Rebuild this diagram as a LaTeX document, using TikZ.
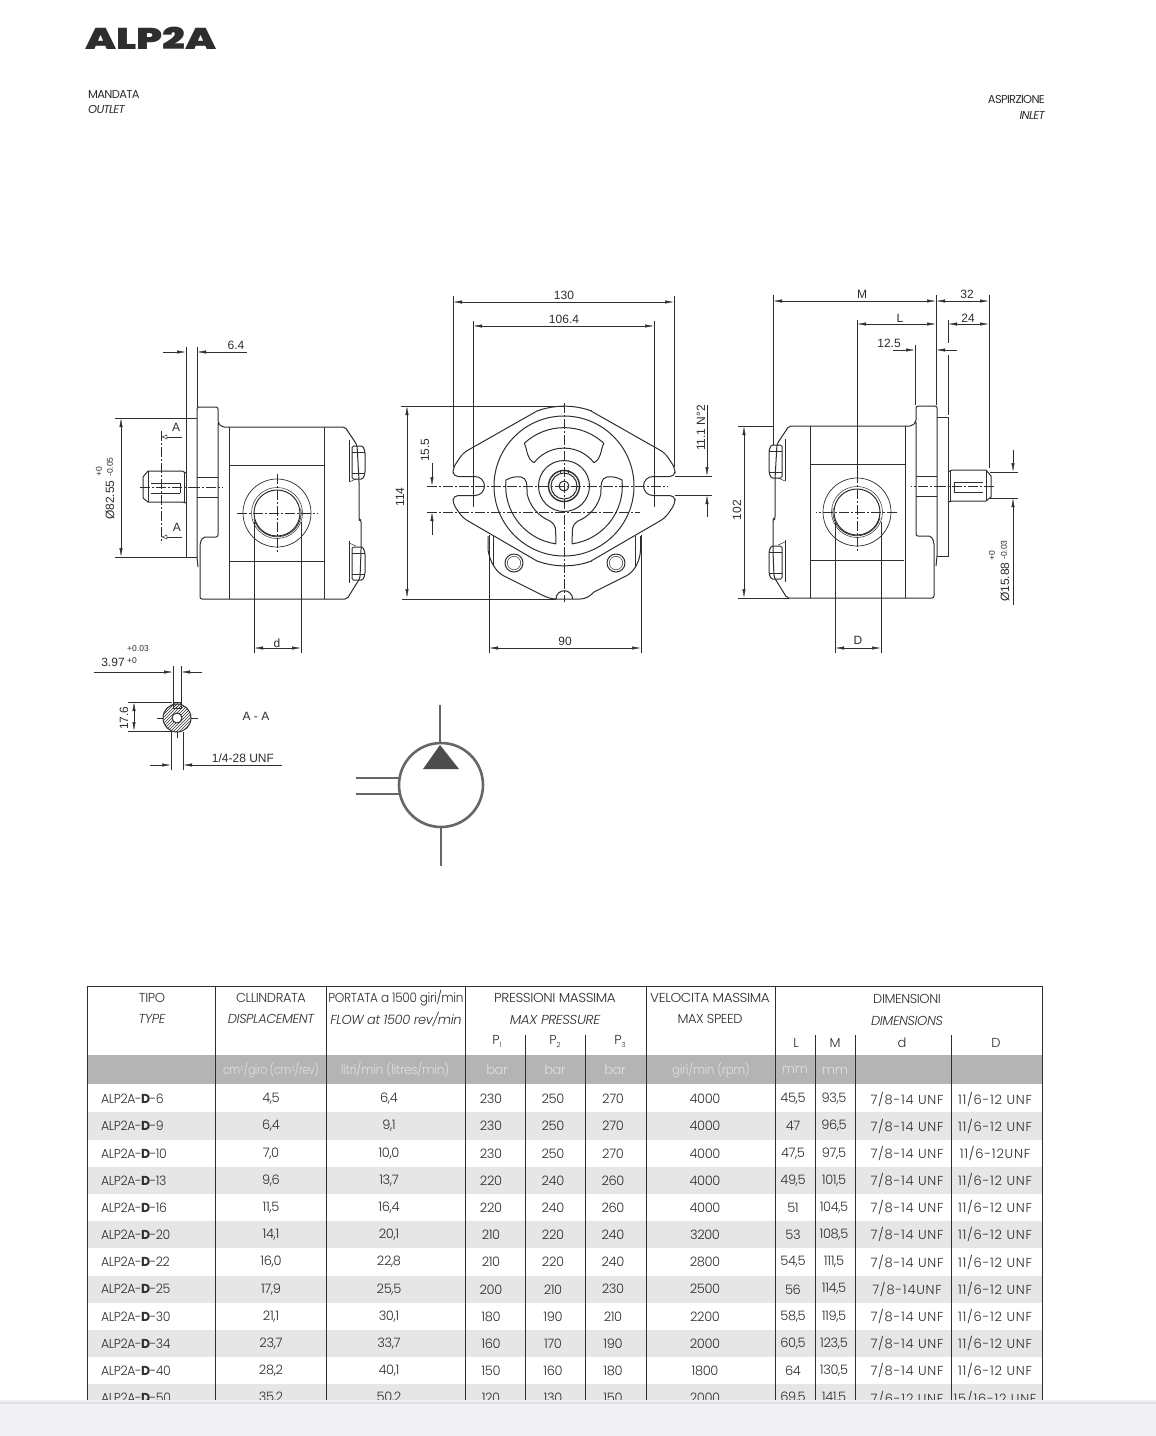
\documentclass[tikz,border=0pt]{standalone}
\usepackage{fontspec}
\setmainfont{Liberation Sans}
\newfontfamily\tablefont{Poppins Light}[BoldFont={Poppins Bold},ItalicFont={Poppins Light Italic},LetterSpace=-3]
\newfontfamily\wideunf{Poppins Light}[LetterSpace=6]
\newfontfamily\headfont{Poppins}[ItalicFont={Poppins Italic},LetterSpace=-6]
\newfontfamily\titlefont{Poppins Black}
\usetikzlibrary{arrows.meta, patterns}
\definecolor{inkgray}{HTML}{2E2E2E}
\definecolor{symgray}{HTML}{666666}
\definecolor{bandgray}{HTML}{B4B4B4}
\definecolor{rowgray}{HTML}{E6E6E6}
\definecolor{barbg}{HTML}{F1F0F4}

\begin{document}
\begin{tikzpicture}
	[%
	x=1pt, y=-1pt,%
	outline/.style ={draw=inkgray,	line width=1pt,	line join=round},%
	thinline/.style={draw=inkgray,	line width=.5pt},%
	centre/.style  ={draw=inkgray,	line width=.5pt,	dash pattern=on 10pt off 2pt on 2pt off 2pt},%
	dimboth/.style ={thinline,	{Latex[length=9pt,width=3.2pt]}-{Latex[length=9pt,width=3.2pt]}},%
	dimto/.style   ={thinline,	-{Latex[length=9pt,width=3.2pt]}},%
	secto/.style   ={thinline,	-{Latex[open,length=6pt,width=5pt]}},%
	dimtext/.style ={text=inkgray,	font=\fontsize{12}{12}\selectfont,	inner sep=0pt},%
	dimsmall/.style={text=inkgray,	font=\fontsize{8.5}{9}\selectfont,	inner sep=0pt},%
	cell/.style    ={text=inkgray,	font=\tablefont\fontsize{13}{13}\selectfont,	inner sep=0pt},%
	uncell/.style  ={text=inkgray,	font=\wideunf\fontsize{13}{13}\selectfont,	inner sep=0pt},%
	headcell/.style={text=inkgray,	font=\headfont\fontsize{11.5}{11.5}\selectfont,	inner sep=0pt},%
	bandcell/.style={text=white!88!black,	font=\tablefont\fontsize{13}{13}\selectfont,	inner sep=0pt},%
	tablerule/.style={draw=inkgray,	line width=.7pt},%
	]

	\useasboundingbox (0,0) rectangle (1156,1436);
	\fill [white] (0,0) rectangle (1156,1436);

	% one side view of the pump, drawn twice
	\newcommand{\pumpview}{%
		\draw [outline] (197,418) -- (186,418) -- (186,557) -- (197,557);
		\draw [outline, rounded corners=2pt] (197,557) -- (197,407) -- (218,407) -- (218,423) -- (222,427) -- (345,427) -- (357,445) -- (359,480) -- (359,520) -- (361,520) -- (361,552) -- (360,578) -- (347,599) -- (200,599) -- (200,543) -- (203,537) -- (218,537) -- (218,423);
		\draw [outline] (197,557) -- (198,567);
		\draw [thinline] (229,427) -- (229,599) (324,427) -- (324,599) (229,465) -- (324,465) (230,561) -- (324,561);
		\draw [thinline] (197,477) -- (218,477) (197,497) -- (218,497);
		\draw [centre] (190,487) -- (223,487);
		% shaft
		\draw [outline] (186,473) -- (182,471) -- (148,471) -- (143,477) -- (143,498) -- (148,502) -- (182,502) -- (186,503);
		\draw [outline] (184,472) -- (184,503);
		\draw [thinline] (148,471) -- (148,502);
		\draw [thinline] (151,483) -- (180,483) (151,493) -- (180,493) (180,483) -- (180,493);
		\draw [centre] (140,487) -- (190,487);
		% port
		\draw [thinline, line width=.7pt] (277,513) circle [radius=34];
		\draw [outline] (277,513) circle [radius=23];
		\draw [thinline, line width=.7pt] (254,519) arc [start angle=165, end angle=-10, radius=24];
		\draw [thinline] (277,513) circle [radius=25.5];
		\draw [centre] (237,513) -- (318,513) (277,474) -- (277,553);
		% bolts
		\foreach \top in {446,547} {
			\draw [outline, rounded corners=1.5pt] (352,\top) -- (363,\top) -- (365,\top+6) -- (365,\top+27) -- (363,\top+33) -- (352,\top+33) -- cycle;
			\draw [thinline] (352,\top+6) -- (365,\top+6) (352,\top+27) -- (365,\top+27);
			\draw [thinline] (349,\top-6) -- (349,\top+36);
		}
		\draw [thinline] (349,482) -- (356,479) (349,543) -- (356,546);
	}

	% left view
	\pumpview
	% right view
	\begin{scope}[xshift=1134pt, yshift=1pt, xscale=-1]
		\pumpview
	\end{scope}

	% left view, section marks and dimensions
	\draw [centre] (161,431) -- (161,543);
	\draw [secto] (182,437) -- (161,437);
	\draw [secto] (182,537) -- (161,537);
	\node (markAtop) at (176,427) [dimtext] {A};
	\node (markAbot) at (177,527) [dimtext] {A};

	\draw [thinline] (186,347) -- (186,418) (197,347) -- (197,407);
	\draw [dimto] (163,352) -- (186,352);
	\draw [dimto] (247,352) -- (197,352);
	\node (plate) at (236,345) [dimtext] {6.4};

	\draw [thinline] (115,418) -- (186,418) (115,557) -- (186,557);
	\draw [dimboth] (121,418) -- (121,557);
	\node (pilot) at (110,500) [dimtext, rotate=90] {Ø82.55};
	\node (pilotlo) at (110,467) [dimsmall, rotate=90] {-0.05};
	\node (pilotup) at (99,472) [dimsmall, rotate=90] {+0};

	\draw [thinline] (254,522) -- (254,653) (301,522) -- (301,653);
	\draw [dimboth] (254,648) -- (301,648);
	\node (portd) at (277,643) [dimtext] {d};

	% front view
	\begin{scope}[shift={(564,486)}]
		\draw [outline, rounded corners=5pt] (-89,-9.5) -- (-111,-9.5) -- (-111,-18) -- (-101,-33) -- (-27,-75);
		\draw [outline] (-27,-75) arc [start angle=250, end angle=290, radius=80];
		\draw [outline, rounded corners=5pt] (27,-75) -- (101,-33) -- (111,-18) -- (111,-9.5) -- (89,-9.5);
		\draw [outline] (-89,-9.5) arc [start angle=270, end angle=450, radius=9.5];
		\draw [outline] (89,-9.5) arc [start angle=270, end angle=90, radius=9.5];
		\draw [outline, rounded corners=5pt] (-89,9.5) -- (-111,9.5) -- (-111,18) -- (-101,32) -- (-27,75);
		\draw [outline] (-27,75) arc [start angle=110, end angle=70, radius=80];
		\draw [outline, rounded corners=5pt] (27,75) -- (101,32) -- (111,18) -- (111,9.5) -- (89,9.5);
		\draw [outline] (0,0) circle [radius=70];
		% recesses
		\draw [outline] (-39.7,-42.7) arc [start angle=227, end angle=313, radius=58.3] .. controls (36,-35) and (38,-28) .. (30,-23.3) arc [start angle=-38, end angle=-142, radius=38] .. controls (-38,-28) and (-36,-35) .. (-39.7,-42.7);
		\foreach \s in {1,-1} {
			\begin{scope}[xscale=\s]
				\draw [outline] (-58,-6) arc [start angle=186, end angle=98, radius=58.3] -- (-8.3,46) .. controls (-8.3,40) and (-10,38) .. (-14,35) arc [start angle=112, end angle=168, radius=38] .. controls (-37,-2) and (-37,-8) .. (-43,-9) .. controls (-50,-10) and (-54,-8) .. (-58,-6);
			\end{scope}
		}
		% hub
		\draw [outline] (0,0) circle [radius=25.5];
		\draw [outline, line width=1.4pt] (0,0) circle [radius=15.5];
		\draw [outline] (0,0) circle [radius=13];
		\draw [outline] (0,0) circle [radius=5];
		\draw [thinline] (-4,-13) -- (-4,-16) -- (4,-16) -- (4,-13);
		% lower housing
		\draw [outline] (-76,50) -- (-76,64) .. controls (-74,76) and (-68,86) .. (-60,90) -- (-28,106) .. controls (-18,111) and (-14,113) .. (-8,113) -- (16,113) .. controls (22,113) and (26,110) .. (30,106) -- (62,90) .. controls (70,86) and (76,76) .. (76.5,64) -- (76.5,50);
		\draw [thinline] (-71,50) -- (-71,80) (71,50) -- (71,80);
		\draw [outline] (-8,113) arc [start angle=180, end angle=360, radius=8.3];
		\foreach \bx in {-50,52} {
			\draw [outline] (\bx,77) circle [radius=9];
			\draw [thinline] (\bx,77) circle [radius=6.7];
		}
	\end{scope}

	\draw [centre] (427,486) -- (668,486);
	\draw [centre] (427,512) -- (640,512);
	\draw [centre] (564,403) -- (564,602);

	\draw [thinline] (453,296) -- (453,467) (674,296) -- (674,467);
	\draw [dimboth] (453,302) -- (674,302);
	\node (width) at (564,295) [dimtext] {130};
	\draw [thinline] (473,321) -- (473,507) (654,321) -- (654,507);
	\draw [dimboth] (473,326) -- (654,326);
	\node (holes) at (564,319) [dimtext] {106.4};

	\draw [thinline] (401,406) -- (564,406) (402,599) -- (556,599);
	\draw [dimboth] (407,406) -- (407,598);
	\node (height) at (400,497) [dimtext, rotate=90] {114};

	\draw [dimto] (432,463) -- (432,486);
	\draw [dimto] (432,535) -- (432,512);
	\node (offset) at (425,450) [dimtext, rotate=90] {15.5};

	\draw [thinline] (675,476) -- (712,476) (675,495) -- (712,495);
	\draw [dimto] (707,405) -- (707,476);
	\draw [dimto] (707,517) -- (707,495);
	\node (slot) at (701,428) [dimtext, rotate=90] {11.1 N°2};

	\draw [thinline] (489,535) -- (489,653) (641,535) -- (641,653);
	\draw [dimboth] (489,648) -- (641,648);
	\node (foot) at (565,641) [dimtext] {90};

	% right view, dimensions
	\draw [thinline] (773,295) -- (773,445) (936,295) -- (936,405) (989,295) -- (989,468);
	\draw [dimboth] (773,301) -- (936,301);
	\draw [dimboth] (936,301) -- (989,301);
	\node (overall) at (862,294) [dimtext] {M};
	\node (shaftlen) at (967,294) [dimtext] {32};

	\draw [thinline] (857,320) -- (857,475);
	\draw [dimboth] (857,324) -- (936,324);
	\draw [dimboth] (948,324) -- (989,324);
	\draw [thinline] (948,320) -- (948,343) (948,355) -- (948,415);
	\node (portpos) at (900,318) [dimtext] {L};
	\node (keylen) at (968,318) [dimtext] {24};

	\draw [thinline] (915,345) -- (915,405);
	\draw [dimto] (893,350) -- (915,350);
	\draw [dimto] (957,350) -- (936,350);
	\node (flangeth) at (889,343) [dimtext] {12.5};

	\draw [thinline] (738,426) -- (773,426) (738,598) -- (789,598);
	\draw [dimboth] (744,426) -- (744,598);
	\node (bodyh) at (737,510) [dimtext, rotate=90] {102};

	\draw [thinline] (990,472) -- (1018,472) (990,498) -- (1018,498);
	\draw [dimto] (1013,450) -- (1013,472);
	\draw [dimto] (1013,605) -- (1013,498);
	\node (shaftd) at (1005,582) [dimtext, rotate=90] {Ø15.88};
	\node (shaftlo) at (1004,550) [dimsmall, rotate=90] {-0.03};
	\node (shaftup) at (992,556) [dimsmall, rotate=90] {+0};

	\draw [thinline] (835,522) -- (835,653) (881,522) -- (881,653);
	\draw [dimboth] (835,648) -- (881,648);
	\node (portD) at (858,640) [dimtext] {D};

	% section A-A
	\draw [outline, pattern=north east lines, pattern color=inkgray] (177,718) circle [radius=14];
	\draw [outline, fill=white] (177,718) circle [radius=5];
	\draw [thinline, pattern=north east lines, pattern color=inkgray] (173,702) rectangle (181,708);
	\draw [thinline] (157,718) -- (163,718) (191,718) -- (198,718) (177,732) -- (177,738);
	\draw [thinline] (173,666) -- (173,702) (181,666) -- (181,702);
	\draw [dimto] (94,672) -- (173,672);
	\draw [dimto] (202,672) -- (181,672);
	\node (keyw) at (113,662) [dimtext] {3.97};
	\node (keywlo) at (132,661) [dimsmall] {+0};
	\node (keywup) at (138,649) [dimsmall] {+0.03};
	\draw [thinline] (128,702) -- (172,702) (128,731) -- (172,731);
	\draw [dimboth] (134,702) -- (134,731);
	\node (keyh) at (124,718) [dimtext, rotate=90] {17.6};
	\draw [thinline] (171,732) -- (171,770) (183,732) -- (183,770);
	\draw [dimto] (150,765) -- (171,765);
	\draw [dimto] (282,765) -- (183,765);
	\node (thread) at (243,758) [dimtext] {1/4-28 UNF};
	\node (sectAA) at (256,716) [dimtext] {A - A};

	% hydraulic symbol
	\node (pumpsym) at (441,785) [circle, draw=symgray, line width=2.6pt, fill=white, minimum size=84pt, inner sep=0pt] {};
	\coordinate (symtop) at (440,705);
	\coordinate (symbot) at (441,866);
	\coordinate (symlefta) at (356,778);
	\coordinate (symleftb) at (356,794);
	\draw [symgray, line width=2.6pt] (symtop) -- (symtop |- pumpsym.north);
	\draw [symgray, line width=2.6pt] (symbot) -- (pumpsym.south);
	\draw [symgray, line width=2.4pt] (symlefta) -- (399.5,778);
	\draw [symgray, line width=2.4pt] (symleftb) -- (399.5,794);
	\fill [black!70] (440,745) -- (459,769) -- (423,769) -- cycle;

	% heading
	\node (title) at (85,38) [anchor=west, text=inkgray, inner sep=0pt, xscale=1.34, font=\titlefont\fontsize{30}{30}\selectfont] {ALP2A};
	\node (outa) at (88,94) [anchor=west, headcell] {MANDATA};
	\node (outb) at (88,109) [anchor=west, headcell] {\itshape OUTLET};
	\node (ina) at (1045,99) [anchor=east, headcell] {ASPIRZIONE};
	\node (inb) at (1045,115) [anchor=east, headcell] {\itshape INLET};

	% table bands
	\fill [bandgray] (88,1055) rectangle (1042,1084);
	\foreach \r in {1,3,5,7,9,11}
		\fill [rowgray] (88,1085.3+27.18*\r) rectangle (1042,1112.5+27.18*\r);

	% table head
	\node (tipo) at (152,998) [cell] {TIPO};
	\node (type) at (152,1019) [cell] {\itshape TYPE};
	\node (cil) at (271,998) [cell] {CLLINDRATA};
	\node (disp) at (271,1019) [cell] {\itshape DISPLACEMENT};
	\node (port) at (396,998) [cell, xscale=.93] {PORTATA a 1500 giri/min};
	\node (flow) at (396,1019) [cell] {\itshape FLOW at 1500 rev/min};
	\node (press) at (555,998) [cell, xscale=1.05] {PRESSIONI MASSIMA};
	\node (maxp) at (555,1020) [cell, xscale=1.05] {\itshape MAX PRESSURE};
	\node (velo) at (710,998) [cell, xscale=1.05] {VELOCITA MASSIMA};
	\node (maxs) at (710,1019) [cell] {MAX SPEED};
	\node (dime) at (907,999) [cell] {DIMENSIONI};
	\node (dimi) at (907,1021) [cell] {\itshape DIMENSIONS};
	\foreach \x/\i in {497/1,555/2,620/3}
		\node (pp\i) at (\x,1041) [cell] {P\raisebox{-3pt}{\fontsize{7}{7}\selectfont\i}};
	\foreach \x/\t/\n in {796/L/colL,835/M/colM,902/d/cold,996/D/colD}
		\node (\n) at (\x,1043) [cell] {\t};

	\node (unita) at (271,1070) [bandcell, xscale=.82] {cm\raisebox{3pt}{\fontsize{7}{7}\selectfont 3}/giro (cm\raisebox{3pt}{\fontsize{7}{7}\selectfont 3}/rev)};
	\node (unitb) at (395,1070) [bandcell, xscale=.94] {litri/min (litres/min)};
	\foreach \x [count=\c] in {497,555,615}
		\node (unitbar\c) at (\x,1070) [bandcell] {bar};
	\node (unitc) at (711,1070) [bandcell, xscale=.9] {giri/min (rpm)};
	\node (unitd) at (795,1070) [bandcell] {mm};
	\node (unite) at (835,1071) [bandcell] {mm};

	% table rows
	\foreach \nn/\cyl/\flw/\pa/\pb/\pc/\rpm/\ll/\mm/\dd/\bigd [count=\r from 0] in {%
		6/{4,5}/{6,4}/230/250/270/4000/{45,5}/{93,5}/{7/8-14 UNF}/{11/6-12 UNF},%
		9/{6,4}/{9,1}/230/250/270/4000/47/{96,5}/{7/8-14 UNF}/{11/6-12 UNF},%
		10/{7,0}/{10,0}/230/250/270/4000/{47,5}/{97,5}/{7/8-14 UNF}/{11/6-12UNF},%
		13/{9,6}/{13,7}/220/240/260/4000/{49,5}/{101,5}/{7/8-14 UNF}/{11/6-12 UNF},%
		16/{11,5}/{16,4}/220/240/260/4000/51/{104,5}/{7/8-14 UNF}/{11/6-12 UNF},%
		20/{14,1}/{20,1}/210/220/240/3200/53/{108,5}/{7/8-14 UNF}/{11/6-12 UNF},%
		22/{16,0}/{22,8}/210/220/240/2800/{54,5}/{111,5}/{7/8-14 UNF}/{11/6-12 UNF},%
		25/{17,9}/{25,5}/200/210/230/2500/56/{114,5}/{7/8-14UNF}/{11/6-12 UNF},%
		30/{21,1}/{30,1}/180/190/210/2200/{58,5}/{119,5}/{7/8-14 UNF}/{11/6-12 UNF},%
		34/{23,7}/{33,7}/160/170/190/2000/{60,5}/{123,5}/{7/8-14 UNF}/{11/6-12 UNF},%
		40/{28,2}/{40,1}/150/160/180/1800/64/{130,5}/{7/8-14 UNF}/{11/6-12 UNF},%
		50/{35,2}/{50,2}/120/130/150/2000/{69,5}/{141,5}/{7/6-12 UNF}/{15/16-12 UNF}%
		}{
		\pgfmathsetmacro{\yy}{1099+27.18*\r}
		\node (name\r) at (101,\yy) [cell, anchor=west, xscale=.96] {ALP2A-\textbf{D}-\nn};
		\node (cyl\r) at (271,\yy) [cell] {\cyl};
		\node (flw\r) at (389,\yy) [cell] {\flw};
		\node (pa\r) at (491,\yy) [cell] {\pa};
		\node (pb\r) at (553,\yy) [cell] {\pb};
		\node (pc\r) at (613,\yy) [cell] {\pc};
		\node (rpm\r) at (705,\yy) [cell] {\rpm};
		\node (ll\r) at (793,\yy) [cell] {\ll};
		\node (mm\r) at (834,\yy) [cell] {\mm};
		\node (dd\r) at (907,\yy) [uncell] {\dd};
		\node (bigd\r) at (995,\yy) [uncell] {\bigd};
	}

	% table rules
	\draw [tablerule] (87,986) -- (1042,986);
	\foreach \x in {87,215,326,465,646,775,1042}
		\draw [tablerule] (\x,986) -- (\x,1400);
	\foreach \x in {525,585,815,855,951}
		\draw [tablerule] (\x,1035) -- (\x,1400);

	% bar at the foot
	\fill [barbg] (0,1400) rectangle (1156,1436);
	\shade [top color=barbg, bottom color=barbg!92!black] (0,1400) rectangle (1156,1403);
\end{tikzpicture}
\end{document}
